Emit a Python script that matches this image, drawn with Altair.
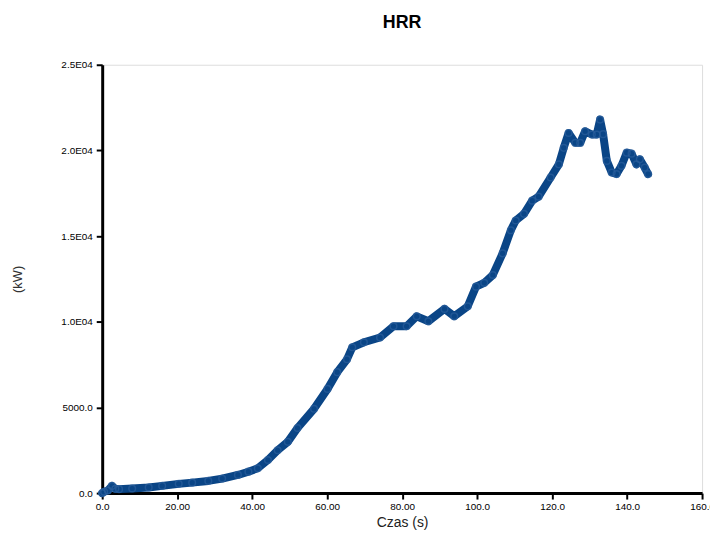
import json
import altair as alt
import pandas as pd

# Time (s)
czas = [0.0, 0.5, 1.5, 2.6, 3.5, 4.5, 8.0, 12.4, 16.0, 20.4, 24.0, 28.3, 32.0,
        36.2, 39.0, 41.5, 44.2, 46.8, 49.5, 52.1, 56.5, 60.1, 62.7, 65.3, 66.7,
        69.8, 74.1, 77.7, 81.2, 83.9, 87.0, 91.3, 93.9, 97.5, 99.7, 101.9,
        104.2, 106.8, 109.0, 110.3, 112.5, 114.7, 116.4, 119.6, 121.8, 123.1,
        124.4, 126.2, 127.5, 128.8, 130.6, 131.9, 132.8, 133.6, 134.6, 135.9,
        137.2, 138.5, 139.9, 141.2, 142.5, 143.4, 144.7, 145.6]
# HRR (kW)
hrr = [0, 80, 150, 420, 250, 230, 270, 330, 420, 540, 610, 710, 850,
       1060, 1250, 1450, 1930, 2500, 2990, 3800, 4920, 6080, 7060, 7810, 8510,
       8800, 9080, 9740, 9740, 10320, 10030, 10750, 10320, 10900, 12050, 12270,
       12730, 13990, 15340, 15910, 16300, 17070, 17300, 18420, 19190, 20150,
       21020, 20440, 20440, 21120, 20930, 20930, 21800, 20950, 19390, 18710,
       18620, 19100, 19870, 19810, 19190, 19480, 19000, 18620]

x_ticks = [0, 20, 40, 60, 80, 100, 120, 140, 160]
x_tick_labels = ["0.0", "20.00", "40.00", "60.00", "80.00", "100.0", "120.0", "140.0", "160.0"]
y_ticks = [0, 5000, 10000, 15000, 20000, 25000]
y_tick_labels = ["0.0", "5000.0", "1.0E04", "1.5E04", "2.0E04", "2.5E04"]

df = pd.DataFrame({"t": czas, "hrr": hrr})

color = "#0A4586"
font = "Liberation Sans"

x_enc = alt.X(
    "t:Q",
    scale=alt.Scale(domain=[0, 160], nice=False),
    axis=alt.Axis(
        values=x_ticks,
        labelExpr=f"{json.dumps(x_tick_labels)}[round(datum.value/20)]",
        title="Czas (s)",
        grid=False,
        domainColor="black", domainWidth=3,
        tickColor="black", tickWidth=2, tickSize=6,
        labelFont=font, labelFontSize=10, labelColor="black", labelPadding=3,
        titleFont=font, titleFontSize=14, titleFontWeight="normal",
        titleColor="#222222", titlePadding=4,
        labelFlush=False, labelOverlap=False,
    ),
)
y_enc = alt.Y(
    "hrr:Q",
    scale=alt.Scale(domain=[0, 25000], nice=False),
    axis=alt.Axis(
        values=y_ticks,
        labelExpr=f"{json.dumps(y_tick_labels)}[round(datum.value/5000)]",
        title="(kW)",
        grid=False,
        domainColor="black", domainWidth=3,
        tickColor="black", tickWidth=2, tickSize=6,
        labelFont=font, labelFontSize=10, labelColor="black", labelPadding=4,
        titleFont=font, titleFontSize=13, titleFontWeight="normal",
        titleColor="#333333", titleX=-85, titleY=216,
        titleAlign="center", titleBaseline="middle",
        labelFlush=False, labelOverlap=False,
    ),
)

base = alt.Chart(df).encode(x=x_enc, y=y_enc, order="t:Q")

line = base.mark_line(color=color, strokeWidth=8, strokeCap="round", strokeJoin="round")
pts = base.mark_point(shape="circle", filled=False, size=45, stroke="#2A5E9C", strokeWidth=1.5)

chart = (
    alt.layer(line, pts)
    .properties(
        width=605,
        height=432,
        autosize=alt.AutoSizeParams(type="none"),
        padding={"left": 95, "top": 55, "right": 8, "bottom": 38},
        title=alt.TitleParams(
            "HRR", font=font, fontSize=18, fontWeight="bold",
            anchor="middle", color="black", offset=28,
        ),
    )
    .configure_view(stroke=None)
    .configure(background="white")
)

chart.save("out.html", embed_options={"renderer": "svg", "actions": False})
